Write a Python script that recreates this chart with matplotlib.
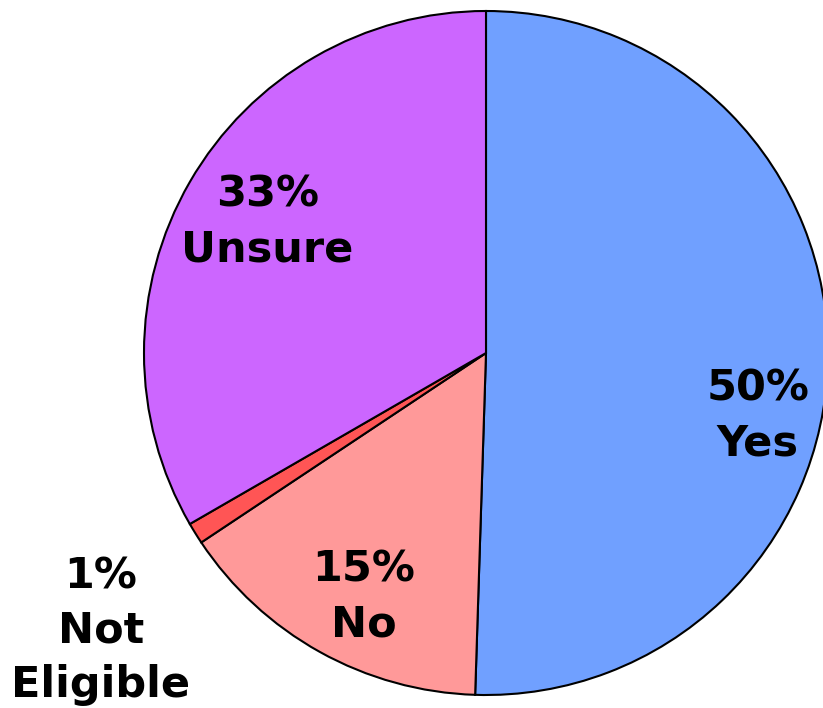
import matplotlib.pyplot as plt

# Pie data (clockwise from 12 o'clock)
labels = ['Yes', 'No', 'Not\nEligible', 'Unsure']
values = [50, 15, 1, 33]
colors = ['#70A0FF', '#FF9999', '#FF5555', '#CC66FF']

# label anchor points in pie units (radius = 1)
label_pos = [(0.795, -0.184), (-0.357, -0.713), (-1.126, -0.812), (-0.640, 0.383)]

W, H = 823, 708
cx, cy, r = 486, 353, 342

fig = plt.figure(figsize=(W / 100, H / 100), dpi=100)
ax = fig.add_axes([0, 0, 1, 1])
ax.pie(values, colors=colors, startangle=90, counterclock=False, radius=1,
       wedgeprops=dict(edgecolor='black', linewidth=1.5))

for v, lab, (x, y) in zip(values, labels, label_pos):
    ax.text(x, y, f'{v}%\n{lab}', ha='center', va='center', fontsize=31,
            fontweight='bold', family='DejaVu Sans', linespacing=1.38)

ax.set_xlim(-cx / r, (W - cx) / r)
ax.set_ylim(-(H - cy) / r, cy / r)
ax.set_aspect('equal')
ax.axis('off')

fig.savefig('out.png', dpi=100)
